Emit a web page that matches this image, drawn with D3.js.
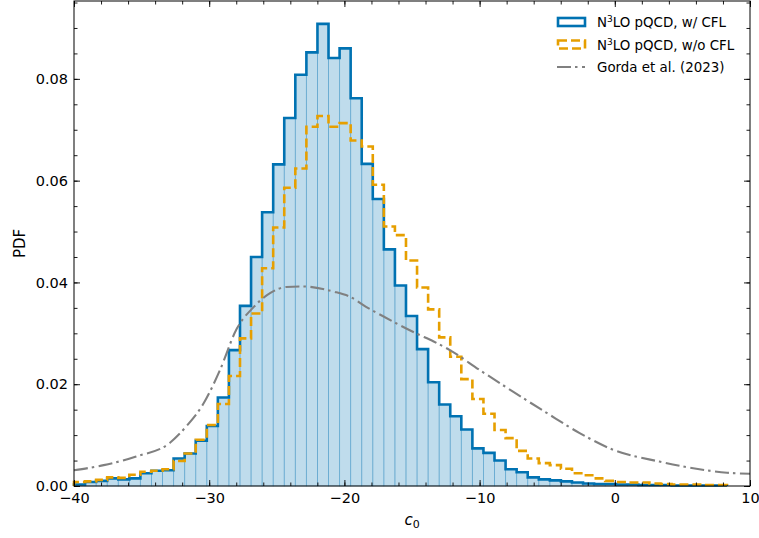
<!DOCTYPE html>
<html lang="en">
<head>
    <meta charset="UTF-8">
    <title>c0 PDF</title>
    <script src="https://d3js.org/d3.v7.min.js"></script>
    <style>
        body { margin: 0; background: #fff; }
        text { font-family: "DejaVu Sans", sans-serif; }
    </style>
</head>
<body>
<script>
    // histogram bins (left edge of first bin, bin width)
    binStart = -40
    binWidth = 0.8185

    // N3LO pQCD, w/ CFL
    withCFL = [0.0003, 0.0008, 0.0010, 0.0015, 0.0013, 0.0015, 0.0025, 0.0030, 0.0031, 0.0054,
        0.0064, 0.0089, 0.0118, 0.0174, 0.0267, 0.0354, 0.0450, 0.0538, 0.0632, 0.0723,
        0.0808, 0.0852, 0.0908, 0.0841, 0.0860, 0.0762, 0.0633, 0.0564, 0.0465, 0.0394,
        0.0334, 0.0269, 0.0204, 0.0160, 0.0137, 0.0111, 0.0074, 0.0065, 0.0050, 0.0033,
        0.0027, 0.0017, 0.0013, 0.0011, 0.0009, 0.0007, 0.0005, 0.0004, 0.0004, 0.0003,
        0.0003, 0.0002, 0.0002, 0.0002, 0.0001, 0.0001, 0.0001, 0.0001, 0.0001]

    // N3LO pQCD, w/o CFL
    withoutCFL = [0.0008, 0.0009, 0.0012, 0.0017, 0.0016, 0.0022, 0.0028, 0.0030, 0.0033, 0.0049,
        0.0064, 0.0091, 0.0120, 0.0161, 0.0216, 0.0290, 0.0339, 0.0428, 0.0508, 0.0586,
        0.0624, 0.0706, 0.0727, 0.0706, 0.0713, 0.0679, 0.0667, 0.0592, 0.0510, 0.0493,
        0.0443, 0.0390, 0.0347, 0.0292, 0.0254, 0.0210, 0.0171, 0.0142, 0.0110, 0.0094,
        0.0069, 0.0054, 0.0045, 0.0041, 0.0034, 0.0025, 0.0021, 0.0015, 0.0010, 0.0008,
        0.0007, 0.0007, 0.0005, 0.0004, 0.0003, 0.0003, 0.0003, 0.0002, 0.0002]

    // Gorda et al. (2023) curve
    gordaX = [-40, -37.8, -35.4, -32.9, -31.7, -30.4, -29.2, -28.0, -26.7, -25.5, -24.3, -23.0,
        -20.8, -19.6, -18.4, -17.1, -15.9, -14.7, -13.4, -12.2, -10.0, -7.5, -5.0, -2.6,
        -0.1, 3.3, 5.8, 8.3, 10]
    gordaY = [0.0031, 0.0041, 0.0058, 0.0085, 0.0117, 0.0163, 0.0228, 0.0307, 0.0352, 0.0379,
        0.0391, 0.0392, 0.0382, 0.0372, 0.0352, 0.0333, 0.0316, 0.0300, 0.0284, 0.0267,
        0.0228, 0.0185, 0.0143, 0.0104, 0.0071, 0.0048, 0.0035, 0.0026, 0.0024]

    xTicks = [-40, -30, -20, -10, 0, 10]
    yTicks = [0, 0.02, 0.04, 0.06, 0.08]

    legendLabels = ["N³LO pQCD, w/ CFL", "N³LO pQCD, w/o CFL", "Gorda et al. (2023)"]

    blue = "#0072b2"
    orange = "#e69f00"
    gray = "#808080"
    dashDot = "14,4,2.5,4.5"

    //chart dimensions
    w = 759
    h = 538
    margin = {top: 1, right: 9, bottom: 52, left: 74}
    width = w - margin.left - margin.right
    height = h - margin.top - margin.bottom

    svg = d3.select("body")
        .append("svg")
        .attr("width", w)
        .attr("height", h)
        .append("g")
        .attr("transform", "translate(" + margin.left + "," + margin.top + ")")

    x = d3.scaleLinear().domain([-40, 10]).range([0, width])
    y = d3.scaleLinear().domain([0, 0.0953]).range([height, 0])

    bins = withCFL.map((v, i) => ({x0: binStart + i * binWidth, x1: binStart + (i + 1) * binWidth, a: v, b: withoutCFL[i]}))

    //filled bars
    svg.selectAll("rect.bar")
        .data(bins)
        .enter()
        .append("rect")
        .attr("class", "bar")
        .attr("x", (d) => x(d.x0))
        .attr("width", (d) => x(d.x1) - x(d.x0))
        .attr("y", (d) => y(d.a))
        .attr("height", (d) => y(0) - y(d.a))
        .attr("fill", blue)
        .attr("fill-opacity", 0.25)
        .attr("stroke", blue)
        .attr("stroke-opacity", 0.28)
        .attr("stroke-width", 0.9)

    function stepPoints(key) {
        pts = [[bins[0].x0, 0]]
        bins.forEach((d) => {
            pts.push([d.x0, d[key]])
            pts.push([d.x1, d[key]])
        })
        pts.push([bins[bins.length - 1].x1, 0])
        return pts
    }

    line = d3.line().x((d) => x(d[0])).y((d) => y(d[1]))

    svg.append("path")
        .attr("d", line(stepPoints("a")))
        .attr("fill", "none")
        .attr("stroke", blue)
        .attr("stroke-width", 2.6)

    svg.append("path")
        .attr("d", line(stepPoints("b")))
        .attr("fill", "none")
        .attr("stroke", orange)
        .attr("stroke-width", 2.6)
        .attr("stroke-dasharray", "9,4")

    gorda = gordaX.map((v, i) => [v, gordaY[i]])
    svg.append("path")
        .attr("d", d3.line().x((d) => x(d[0])).y((d) => y(d[1])).curve(d3.curveMonotoneX)(gorda))
        .attr("fill", "none")
        .attr("stroke", gray)
        .attr("stroke-width", 2.1)
        .attr("stroke-dasharray", dashDot)

    //axes with inward ticks
    xMinor = d3.range(-40, 10.01, 2)
    yMinor = d3.range(0, 0.0951, 0.005)

    function styleAxis(g) {
        g.select(".domain").remove()
        g.selectAll("line").attr("stroke", "#000").attr("stroke-width", 0.9)
        g.selectAll("text").attr("font-size", "14.5px").attr("fill", "#000")
    }

    svg.append("g").attr("transform", "translate(0," + height + ")")
        .call(d3.axisBottom(x).tickValues(xMinor).tickSize(-3.5).tickFormat("")).call(styleAxis)
    svg.append("g").attr("transform", "translate(0," + height + ")")
        .call(d3.axisBottom(x).tickValues(xTicks).tickSize(-6).tickPadding(6.5).tickFormat(d3.format("d"))).call(styleAxis)
    svg.append("g")
        .call(d3.axisTop(x).tickValues(xMinor).tickSize(-3.5).tickFormat("")).call(styleAxis)
    svg.append("g")
        .call(d3.axisTop(x).tickValues(xTicks).tickSize(-6).tickFormat("")).call(styleAxis)

    svg.append("g")
        .call(d3.axisLeft(y).tickValues(yMinor).tickSize(-3.5).tickFormat("")).call(styleAxis)
    svg.append("g")
        .call(d3.axisLeft(y).tickValues(yTicks).tickSize(-6).tickPadding(6).tickFormat(d3.format(".2f"))).call(styleAxis)
    svg.append("g").attr("transform", "translate(" + width + ",0)")
        .call(d3.axisRight(y).tickValues(yMinor).tickSize(-3.5).tickFormat("")).call(styleAxis)
    svg.append("g").attr("transform", "translate(" + width + ",0)")
        .call(d3.axisRight(y).tickValues(yTicks).tickSize(-6).tickFormat("")).call(styleAxis)

    //frame
    svg.append("rect")
        .attr("width", width)
        .attr("height", height)
        .attr("fill", "none")
        .attr("stroke", "#000")
        .attr("stroke-width", 1)

    //axis labels
    xl = svg.append("text")
        .attr("x", width / 2)
        .attr("y", height + 39)
        .attr("text-anchor", "middle")
        .attr("font-size", "15px")
    xl.append("tspan").attr("font-style", "italic").text("c")
    xl.append("tspan").attr("font-size", "11px").attr("dy", 3).text("0")

    svg.append("text")
        .attr("transform", "translate(" + (-49) + "," + (height / 2) + ") rotate(-90)")
        .attr("text-anchor", "middle")
        .attr("font-size", "15px")
        .text("PDF")

    //legend
    legend = svg.append("g").attr("transform", "translate(" + (557 - margin.left) + "," + (17 - margin.top) + ")")
    rowH = 22.5

    legend.append("rect").attr("x", 1).attr("y", 1).attr("width", 27).attr("height", 8)
        .attr("fill", "#fff").attr("stroke", blue).attr("stroke-width", 2.6)
    legend.append("rect").attr("x", 1).attr("y", rowH + 1).attr("width", 27).attr("height", 8)
        .attr("fill", "#fff").attr("stroke", orange).attr("stroke-width", 2.6).attr("stroke-dasharray", "9,4")
    legend.append("line").attr("x1", 0).attr("x2", 28).attr("y1", 2 * rowH + 5).attr("y2", 2 * rowH + 5)
        .attr("stroke", gray).attr("stroke-width", 2.1).attr("stroke-dasharray", dashDot)

    legendLabels.forEach((lab, i) => {
        t = legend.append("text")
            .attr("x", 40)
            .attr("y", i * rowH + 10)
            .attr("font-size", "13.4px")
        parts = lab.split("³")
        if (parts.length === 2) {
            t.append("tspan").text(parts[0])
            t.append("tspan").attr("font-size", "9px").attr("dy", -5).text("3")
            t.append("tspan").attr("dy", 5).text(parts[1])
        } else {
            t.text(lab)
        }
    })
</script>
</body>
</html>
